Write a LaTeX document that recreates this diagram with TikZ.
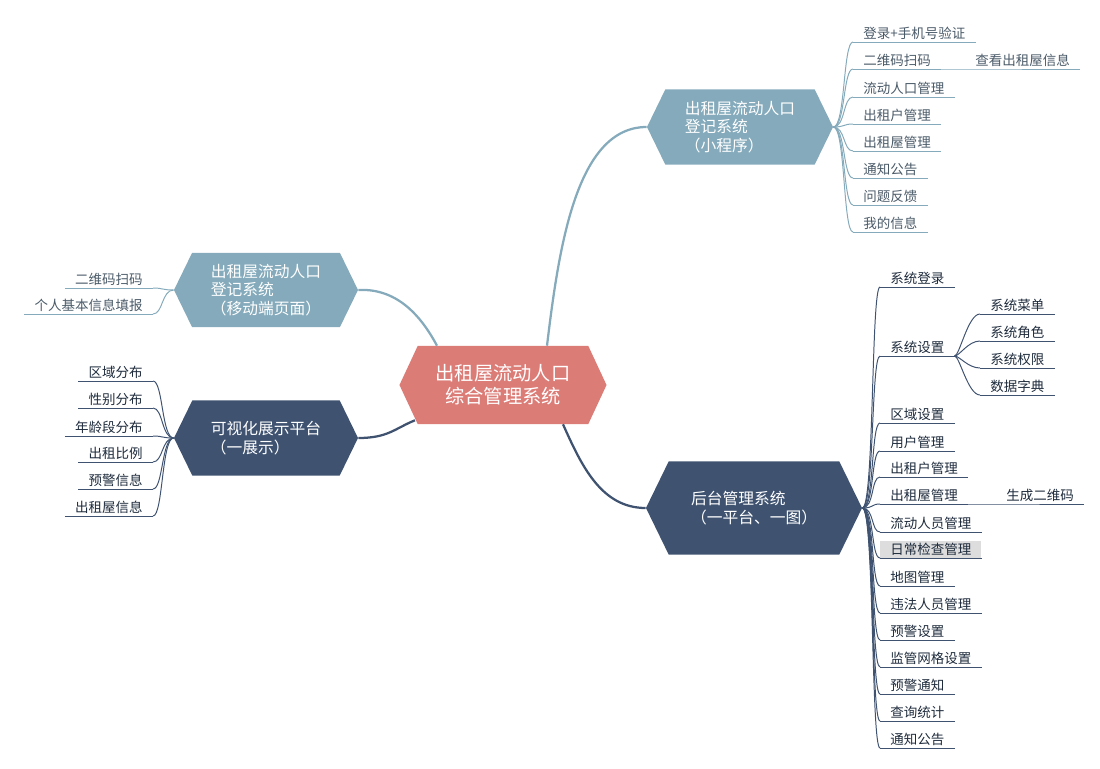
\documentclass[tikz,border=0pt]{standalone}
\usepackage{fontspec}
\usetikzlibrary{shapes.symbols,calc}
\newfontfamily\cjk{Noto Sans CJK SC}
\definecolor{hubred}{HTML}{DC7C77}
\definecolor{lightblue}{HTML}{84AABB}
\definecolor{navy}{HTML}{3F5371}
\definecolor{leafgrey}{HTML}{4A5A68}
\definecolor{leafnavy}{HTML}{1E2B3C}
\definecolor{hilite}{HTML}{DDDDDD}

\begin{document}
\begin{tikzpicture}[x=0.025cm, y=-0.025cm,
  hex/.style={shape=signal, signal to=east and west, signal pointer angle=128,
              text=white, align=left, inner sep=0pt,
              font=\cjk\fontsize{11.2}{13.2}\selectfont},
  leaf/.style={inner xsep=0.25cm, inner ysep=1.5pt,
               font=\cjk\fontsize{9.6}{11}\selectfont},
  twig/.style={line width=0.7pt},
  limb/.style={line width=1.6pt}
]
  \useasboundingbox (0,0) rectangle (1100,769);

  % hub and branches
  \node[hex, fill=hubred, signal pointer angle=130, align=center,
        minimum width=5.175cm, minimum height=1.95cm,
        font=\cjk\fontsize{13.7}{16.4}\selectfont] (root) at (503,385)
    {出租屋流动人口\\综合管理系统};
  \node[hex, fill=lightblue, minimum width=4.65cm, minimum height=1.875cm] (mini) at (740,127)
    {出租屋流动人口\\登记系统\\（小程序）};
  \node[hex, fill=lightblue, minimum width=4.6cm, minimum height=1.85cm] (mobile) at (266,290)
    {出租屋流动人口\\登记系统\\（移动端页面）};
  \node[hex, fill=navy, minimum width=4.6cm, minimum height=1.875cm] (visual) at (266,438)
    {可视化展示平台\\（一展示）};
  \node[hex, fill=navy, minimum width=5.4cm, minimum height=2.325cm] (back) at (754,508)
    {后台管理系统\\（一平台、一图）};

  \draw[limb, lightblue] ($(root.north)+(44,0)$) .. controls +(12,-100) and +(-70,0) .. (mini.west);
  \draw[limb, lightblue] (mobile.east) .. controls +(40,-2) and +(-15,-28) .. ($(root.north)+(-66,0)$);
  \draw[limb, navy] (visual.east) .. controls +(30,0) and +(-20,8) .. ($(root.south)+(-88,-4)$);
  \draw[limb, navy] ($(root.south)+(60,0)$) .. controls +(18,40) and +(-45,0) .. (back.west);

  % mini program
  \foreach \y/\t [count=\i] in {42/登录+手机号验证, 69/二维码扫码, 97/流动人口管理, 124/出租户管理,
                                151/出租屋管理, 178/通知公告, 205/问题反馈, 232/我的信息} {
    \node[leaf, text=leafgrey, anchor=south west] (m\i) at (853,\y) {\t};
    \draw[twig, lightblue] (m\i.south west) -- (m\i.south east);
    \draw[twig, lightblue] (mini.east) .. controls +(12,0) and +(-10,0) .. (m\i.south west);
  }
  \node[leaf, text=leafgrey, anchor=south west] (scan) at (965,69) {查看出租屋信息};
  \draw[twig, lightblue] (m2.south east) -- (scan.south west) -- (scan.south east);

  % mobile page
  \foreach \y/\t [count=\i] in {288/二维码扫码, 314/个人基本信息填报} {
    \node[leaf, text=leafgrey, anchor=south east] (p\i) at (153,\y) {\t};
    \draw[twig, lightblue] (p\i.south west) -- (p\i.south east);
    \draw[twig, lightblue] (mobile.west) .. controls +(-12,0) and +(10,0) .. (p\i.south east);
  }

  % visual platform
  \foreach \y/\t [count=\i] in {381/区域分布, 408/性别分布, 436/年龄段分布, 462/出租比例,
                                489/预警信息, 516/出租屋信息} {
    \node[leaf, text=leafnavy, anchor=south east] (v\i) at (153,\y) {\t};
    \draw[twig, navy] (v\i.south west) -- (v\i.south east);
    \draw[twig, navy] (visual.west) .. controls +(-12,0) and +(10,0) .. (v\i.south east);
  }

  % back office
  \foreach \y/\t/\f [count=\i] in {287/系统登录/none, 356/系统设置/none, 423/区域设置/none,
                                   451/用户管理/none, 477/出租户管理/none, 504/出租屋管理/none,
                                   532/流动人员管理/none, 558/日常检查管理/hilite, 586/地图管理/none,
                                   613/违法人员管理/none, 640/预警设置/none, 667/监管网格设置/none,
                                   694/预警通知/none, 721/查询统计/none, 748/通知公告/none} {
    \node[leaf, text=leafnavy, anchor=south west, fill=\f] (b\i) at (880,\y) {\t};
    \draw[twig, navy] (b\i.south west) -- (b\i.south east);
    \draw[twig, navy] (back.east) .. controls +(12,0) and +(-9,0) .. (b\i.south west);
  }

  \foreach \y/\t [count=\i] in {314/系统菜单, 341/系统角色, 368/系统权限, 395/数据字典} {
    \node[leaf, text=leafnavy, anchor=south west] (s\i) at (980,\y) {\t};
    \draw[twig, navy] (s\i.south west) -- (s\i.south east);
    \draw[twig, navy] (b2.south east) .. controls +(5,0) and +(-12,0) .. (s\i.south west);
  }
  \node[leaf, text=leafnavy, anchor=south west] (qr) at (996,504) {生成二维码};
  \draw[twig, navy] (b6.south east) -- (qr.south west) -- (qr.south east);
\end{tikzpicture}
\end{document}
